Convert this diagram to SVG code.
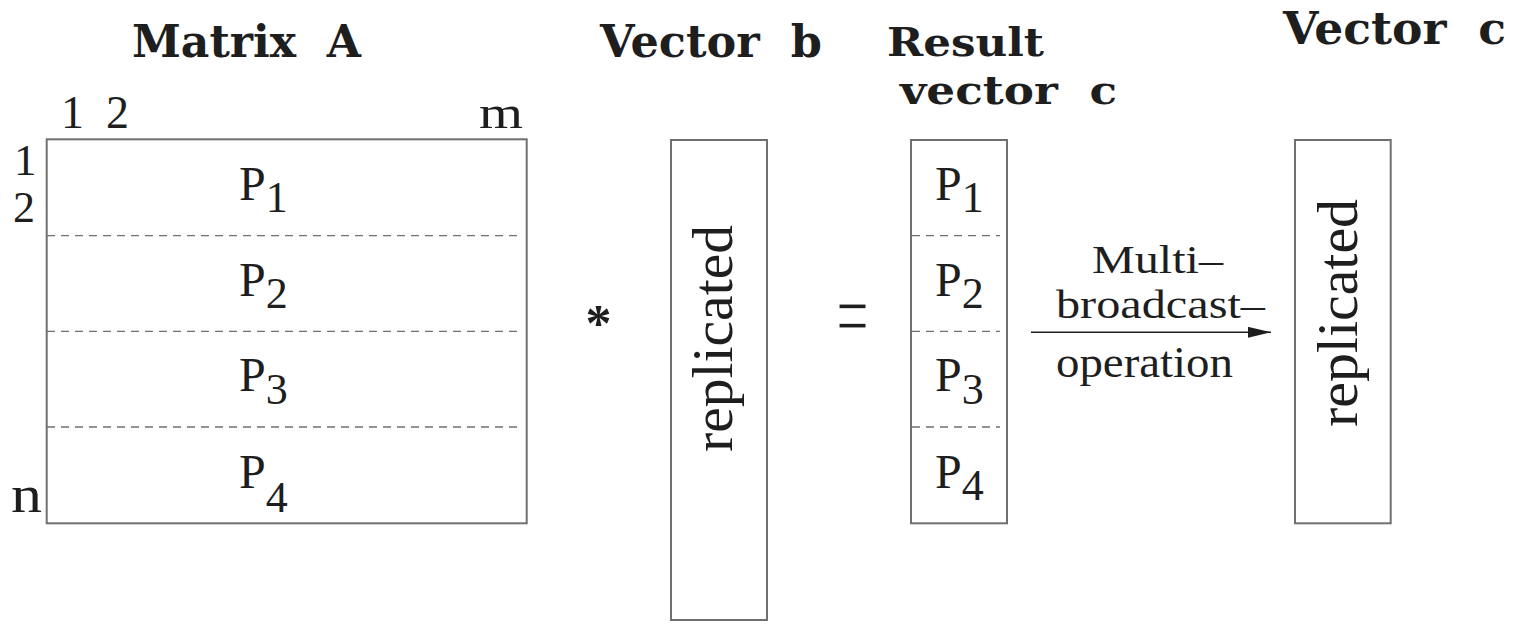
<svg xmlns="http://www.w3.org/2000/svg" width="1527" height="624" viewBox="0 0 1527 624">
<style>
.box{fill:#fff;stroke:#707070;stroke-width:2}
.dash{stroke:#707070;stroke-width:1.3;stroke-dasharray:8 6;fill:none}
.t{font-family:"Liberation Serif","Times New Roman",serif;fill:#1e1e1e}
.title{font-family:"DejaVu Serif","Liberation Serif",serif;font-weight:bold;font-size:45px;fill:#1e1e1e}
.p{font-size:48px}
.s{font-size:44px}
.rep{font-family:"Liberation Serif","Times New Roman",serif;font-size:56px;fill:#1e1e1e}
</style>
<defs>
<marker id="ah" markerUnits="userSpaceOnUse" markerWidth="24" markerHeight="12" refX="23" refY="5.5" orient="auto">
<path d="M0,0 L23,5.5 L0,11 Z" fill="#1e1e1e"/>
</marker>
</defs>
<rect width="1527" height="624" fill="#fff"/>

<g id="titles">
<text class="title" x="132" y="57" textLength="229" lengthAdjust="spacingAndGlyphs" xml:space="preserve">Matrix  A</text>
<text class="title" x="600" y="57" textLength="222" lengthAdjust="spacingAndGlyphs" xml:space="preserve">Vector  b</text>
<text class="title" x="887" y="56" textLength="157" lengthAdjust="spacingAndGlyphs" style="font-size:40px">Result</text>
<text class="title" x="900" y="104" textLength="217" lengthAdjust="spacingAndGlyphs" style="font-size:40px" xml:space="preserve">vector  c</text>
<text class="title" x="1283" y="44" textLength="223" lengthAdjust="spacingAndGlyphs" xml:space="preserve">Vector  c</text>
</g>

<g id="matrixA">
<rect class="box" x="46.7" y="139.3" width="480" height="384"/>
<line class="dash" x1="47" y1="235.7" x2="520" y2="235.7"/>
<line class="dash" x1="47" y1="331.3" x2="520" y2="331.3"/>
<line class="dash" x1="47" y1="427" x2="520" y2="427"/>
<text class="t" font-size="46"><tspan x="61" y="128">1</tspan> <tspan x="106" y="128">2</tspan></text>
<text class="t" font-size="46" x="479" y="128" textLength="44" lengthAdjust="spacingAndGlyphs">m</text>
<text class="t" font-size="45" x="14" y="175">1</text>
<text class="t" font-size="44" x="13" y="222">2</text>
<text class="t" font-size="52" x="11" y="512" textLength="31" lengthAdjust="spacingAndGlyphs">n</text>
<text class="t"><tspan class="p" x="239" y="200">P</tspan><tspan class="s" y="212">1</tspan></text>
<text class="t"><tspan class="p" x="239" y="296">P</tspan><tspan class="s" y="308">2</tspan></text>
<text class="t"><tspan class="p" x="239" y="391">P</tspan><tspan class="s" y="404">3</tspan></text>
<text class="t"><tspan class="p" x="239" y="488">P</tspan><tspan class="s" y="512">4</tspan></text>
</g>

<g id="operators">
<text class="t" font-size="52" font-weight="bold" x="598.5" y="341" text-anchor="middle">*</text>
<text class="t" font-size="48" text-anchor="middle" stroke="#fff" stroke-width="0.5" transform="translate(852.5 348) scale(1.2 2)">=</text>
</g>

<g id="vectorB">
<rect class="box" x="671" y="140" width="96" height="480"/>
<text class="rep" transform="translate(732 452) rotate(-90)" textLength="227" lengthAdjust="spacingAndGlyphs">replicated</text>
</g>

<g id="resultC">
<rect class="box" x="911" y="140" width="96" height="383.3"/>
<line class="dash" x1="912" y1="235.7" x2="1000" y2="235.7"/>
<line class="dash" x1="912" y1="331.3" x2="1000" y2="331.3"/>
<line class="dash" x1="912" y1="427" x2="1000" y2="427"/>
<text class="t"><tspan class="p" x="935" y="200">P</tspan><tspan class="s" y="212">1</tspan></text>
<text class="t"><tspan class="p" x="935" y="296">P</tspan><tspan class="s" y="308">2</tspan></text>
<text class="t"><tspan class="p" x="935" y="391">P</tspan><tspan class="s" y="404">3</tspan></text>
<text class="t"><tspan class="p" x="935" y="488">P</tspan><tspan class="s" y="500">4</tspan></text>
</g>

<g id="vectorC">
<rect class="box" x="1295" y="140" width="95.7" height="383.3"/>
<text class="rep" transform="translate(1357 427) rotate(-90)" textLength="228" lengthAdjust="spacingAndGlyphs">replicated</text>
</g>

<g id="connectors">
<line x1="1031" y1="332.3" x2="1271" y2="332.3" stroke="#1e1e1e" stroke-width="1.6" marker-end="url(#ah)"/>
<text class="t" font-size="40" x="1092" y="273" textLength="131" lengthAdjust="spacingAndGlyphs">Multi–</text>
<text class="t" font-size="40" x="1056" y="318" textLength="209" lengthAdjust="spacingAndGlyphs">broadcast–</text>
<text class="t" font-size="44" x="1056" y="377" textLength="177" lengthAdjust="spacingAndGlyphs">operation</text>
</g>
</svg>
